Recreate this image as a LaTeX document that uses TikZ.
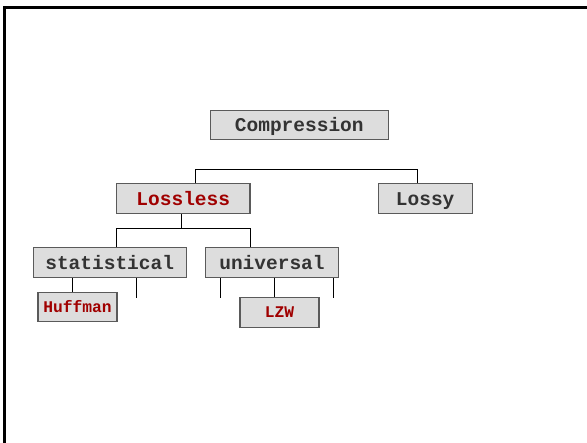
\documentclass[tikz,border=0pt]{standalone}
\usepackage{fontspec}
\setmonofont{Liberation Mono}
\usepackage{tikz}
\usetikzlibrary{positioning,calc}
\usepackage{xcolor}
\definecolor{boxgray}{RGB}{221,221,221}
\definecolor{edgegray}{RGB}{90,90,90}
\definecolor{textgray}{RGB}{51,51,51}
\definecolor{keyred}{RGB}{160,0,0}

\begin{document}
\begin{tikzpicture}[
    x=1pt, y=-1pt,
    every node/.style={font=\ttfamily\bfseries\fontsize{19.5}{21}\selectfont},
    box/.style={rectangle, draw=edgegray, line width=1.1pt, fill=boxgray, text=textgray, inner sep=0pt, minimum height=29.7pt, text height=17pt, text depth=4pt},
    keybox/.style={box, text=keyred},
    leafbox/.style={keybox, font=\ttfamily\bfseries\fontsize{16.3}{18}\selectfont, text height=15pt, text depth=4pt},
    link/.style={draw=black, line width=0.8pt}
]
\useasboundingbox (0,0) rectangle (587,443);

% Frame (cut off at right and bottom)
\draw[line width=2.6pt] (4.5,443) -- (4.5,7.5) -- (587,7.5);

% Tree nodes
\node[box, minimum width=178pt] (comp) at (299.3,125) {Compression};
\node[keybox, minimum width=133.3pt] (lossless) at (183.3,198.8) {Lossless};
\node[box, minimum width=93.7pt] (lossy) at (425.2,198.8) {Lossy};
\node[box, minimum width=152.7pt] (stat) at (109.7,262.8) {statistical};
\node[box, minimum width=133.4pt] (univ) at (272,262.8) {universal};
\node[leafbox, minimum width=79pt, minimum height=29.3pt] (huff) at (77.5,307.3) {Huffman};
\node[leafbox, minimum width=79pt] (lzw) at (279.5,312.5) {LZW};

% Bus levels and free stub ends
\coordinate (bus1) at (0,169.3);
\coordinate (bus2) at (0,228);
\coordinate (stubs) at (0,297.7);

% Level 1: Lossless -- Lossy
\draw[link] ([xshift=12.4pt]lossless.north) |- ([xshift=-7.5pt]lossy.north |- bus1) -- ([xshift=-7.5pt]lossy.north);

% Level 2: Lossless -> statistical, universal
\draw[link] ([xshift=-2.3pt]lossless.south) -- ([xshift=-2.3pt]lossless.south |- bus2);
\draw[link] ([xshift=7pt]stat.north) |- ([xshift=-22pt]univ.north |- bus2) -- ([xshift=-22pt]univ.north);

% Level 3: leaves and open stubs
\coordinate (s1) at (136.7,0);
\coordinate (u1) at (220.3,0);
\coordinate (u2) at (333.3,0);
\draw[link] ([xshift=-5.2pt]huff.north |- stat.south) -- ([xshift=-5.2pt]huff.north);
\draw[link] (s1 |- stat.south) -- (s1 |- stubs);
\draw[link] (u1 |- univ.south) -- (u1 |- stubs);
\draw[link] (u2 |- univ.south) -- (u2 |- stubs);
\draw[link] ([xshift=-4.8pt]lzw.north |- univ.south) -- ([xshift=-4.8pt]lzw.north);

\end{tikzpicture}
\end{document}
